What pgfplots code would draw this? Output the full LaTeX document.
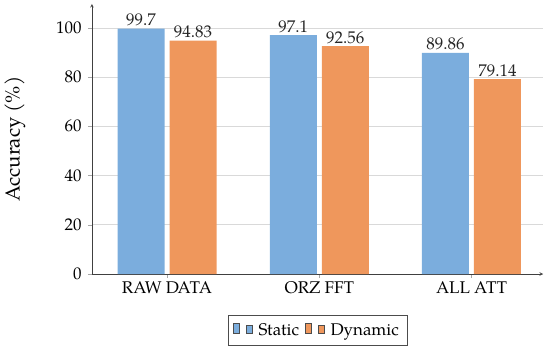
\documentclass[border=0pt]{standalone}
\usepackage{pgfplots}
\pgfplotsset{compat=1.18}
\usepackage{fontspec}
\setmainfont{TeX Gyre Pagella}
\definecolor{cblue}{RGB}{123,173,221}
\definecolor{corange}{RGB}{239,151,92}
\begin{document}
\begin{tikzpicture}
\useasboundingbox (-92bp,-79bp) rectangle (458bp,274bp);
\begin{axis}[
  scale only axis,
  width=451bp, height=270bp,
  at={(0,0)}, anchor=south west,
  ybar=5bp, bar width=47bp,
  xmin=-0.493, xmax=2.47,
  ymin=0, ymax=109.7,
  axis lines=left,
  axis line style={black!75, line width=0.6pt},
  xtick={0,1,2},
  xticklabels={RAW DATA, ORZ FFT, ALL ATT},
  ytick={0,20,40,60,80,100},
  ymajorgrids,
  grid style={black!15, line width=0.6pt},
  major tick length=4bp,
  tick align=outside,
  tick style={black!35, line width=0.5pt},
  tick label style={font=\fontsize{17}{18}\selectfont},
  yticklabel style={xshift=-3bp},
  /pgf/number format/assume math mode=true,
  ylabel={Accuracy (\%)},
  ylabel style={font=\fontsize{20.5}{22}\selectfont, at={(axis description cs:-0.171,0.5)}, anchor=center},
  nodes near coords,
  point meta=explicit symbolic,
  every node near coord/.append style={font=\fontsize{17}{18}\selectfont, black!85, yshift=-1bp},
  legend style={at={(0.5,-0.152)}, anchor=north, legend columns=-1,
    draw=black!70, line width=0.6pt, font=\fontsize{17}{18}\selectfont,
    inner xsep=5bp, inner ysep=5bp,
    nodes={inner sep=3bp},
    /tikz/every odd column/.append style={column sep=3bp},
    /tikz/every even column/.append style={column sep=3bp}},
  legend image code/.code={%
    \draw[#1, draw=black!70, line width=0.5pt, yshift=-0.28em] (0bp,0bp) rectangle (6bp,1em);
    \draw[#1, draw=black!70, line width=0.5pt, yshift=-0.28em] (13bp,0bp) rectangle (19bp,0.77em);},
]
\addplot[fill=cblue, draw=none] coordinates {(0,99.7) [99.7] (1,97.1) [97.1] (2,89.86) [89.86]};
\addplot[fill=corange, draw=none] coordinates {(0,94.83) [94.83] (1,92.56) [92.56] (2,79.14) [79.14]};
\legend{Static, Dynamic}
\end{axis}
\end{tikzpicture}
\end{document}
